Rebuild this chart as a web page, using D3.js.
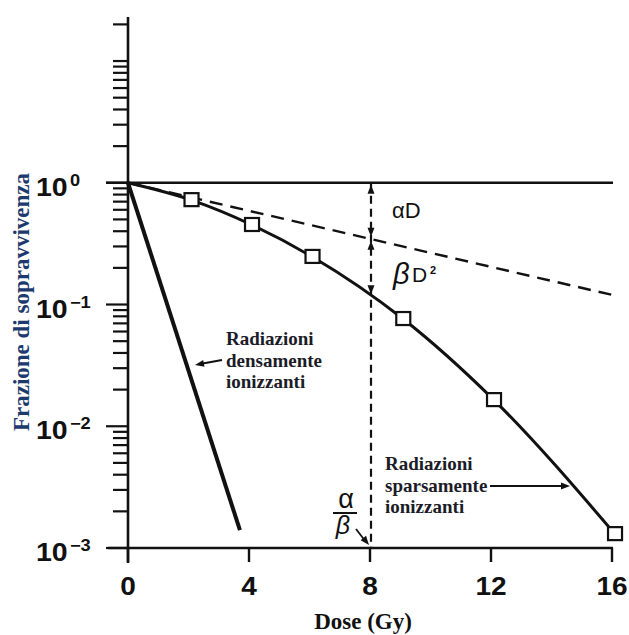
<!DOCTYPE html>
<html>
<head>
<meta charset="utf-8">
<script src="https://cdn.jsdelivr.net/npm/d3@7"></script>
<style>
  body { margin: 0; background: #fff; }
  svg { display: block; }
</style>
</head>
<body>
<svg></svg>
<script>
const width = 629;
const height = 635;

// survival curves
const sparseDose = [0, 2.1, 4.1, 6.1, 9.1, 12.1, 16.1];
const sparseSurv = [1, 0.72, 0.45, 0.246, 0.076, 0.0164, 0.0013];
const denseDose = [0, 3.7];
const denseSurv = [1, 0.0014];
const alphaDose = [0, 16];
const alphaSurv = [1, 0.12];
const refDose = 8;

const xTicks = [0, 4, 8, 12, 16];
const yMajor = [1, 0.1, 0.01, 0.001];
const yExp = ['0', '\u22121', '\u22122', '\u22123'];

const svg = d3.select('svg')
    .attr('width', width)
    .attr('height', height);

const x = d3.scaleLinear().domain([0, 16]).range([128, 612]);
const y = d3.scaleLog().domain([0.001, 23]).range([548, 17]);

const ink = '#111';
const helv = 'Liberation Sans, Arial, Helvetica, sans-serif';
const times = 'Liberation Serif, Times New Roman, serif';

// y axis: minor ticks, major ticks
const yAxis = svg.append('g').attr('transform', `translate(${x(0)},0)`);
yAxis.append('line')
    .attr('x1', 0).attr('x2', 0)
    .attr('y1', y(23)).attr('y2', y(0.001) + 15)
    .attr('stroke', ink).attr('stroke-width', 2.6);
yAxis.selectAll('.minor')
  .data(y.ticks())
  .enter().append('line')
    .classed('minor', true)
    .attr('x1', d => yMajor.includes(d) ? -22 : -15).attr('x2', 0)
    .attr('y1', d => y(d)).attr('y2', d => y(d))
    .attr('stroke', ink).attr('stroke-width', 2.2);

const yLab = svg.append('g')
  .selectAll('text')
  .data(yMajor)
  .enter().append('text')
    .attr('transform', d => `translate(36,${y(d) + 13}) scale(1.14,1)`)
    .attr('font-family', helv)
    .attr('font-weight', 'bold')
    .attr('font-size', 25)
    .attr('fill', ink);
yLab.append('tspan').text('10');
yLab.append('tspan')
    .attr('dx', 2)
    .attr('dy', -10)
    .attr('font-size', 16)
    .text((d, i) => yExp[i]);

// x axis
const xAxis = svg.append('g');
xAxis.append('line')
    .attr('x1', x(0) - 20).attr('x2', x(16) + 1)
    .attr('y1', y(0.001)).attr('y2', y(0.001))
    .attr('stroke', ink).attr('stroke-width', 2.6);
xAxis.selectAll('.xt')
  .data(xTicks)
  .enter().append('line')
    .classed('xt', true)
    .attr('x1', d => x(d)).attr('x2', d => x(d))
    .attr('y1', y(0.001)).attr('y2', y(0.001) + 14)
    .attr('stroke', ink).attr('stroke-width', 2.4);
xAxis.selectAll('text')
  .data(xTicks)
  .enter().append('text')
    .attr('transform', d => `translate(${x(d)},595) scale(1.12,1)`)
    .attr('text-anchor', 'middle')
    .attr('font-family', helv)
    .attr('font-weight', 'bold')
    .attr('font-size', 25)
    .attr('fill', ink)
    .text(d => d);

// axis titles
svg.append('text')
    .attr('x', 363).attr('y', 629)
    .attr('text-anchor', 'middle')
    .attr('font-family', times)
    .attr('font-weight', 'bold')
    .attr('font-size', 23)
    .attr('fill', '#111')
    .text('Dose (Gy)');
svg.append('text')
    .attr('transform', 'translate(29,302) rotate(-90)')
    .attr('text-anchor', 'middle')
    .attr('font-family', times)
    .attr('font-weight', 'bold')
    .attr('font-size', 23)
    .attr('fill', '#1d3a6e')
    .text('Frazione di sopravvivenza');

// reference line at survival 1
svg.append('line')
    .attr('x1', x(0) - 22).attr('x2', x(16) + 1)
    .attr('y1', y(1)).attr('y2', y(1))
    .attr('stroke', ink).attr('stroke-width', 2.4);

const line = d3.line()
    .x(d => x(d[0]))
    .y(d => y(d[1]));

// alpha component (dashed)
svg.append('path')
    .attr('d', line(d3.zip(alphaDose, alphaSurv)))
    .attr('fill', 'none')
    .attr('stroke', ink)
    .attr('stroke-width', 2.4)
    .attr('stroke-dasharray', '13,8');

// densely ionizing
svg.append('path')
    .attr('d', line(d3.zip(denseDose, denseSurv)))
    .attr('fill', 'none')
    .attr('stroke', ink)
    .attr('stroke-width', 4);

// sparsely ionizing
const sparse = d3.zip(sparseDose, sparseSurv);
svg.append('path')
    .attr('d', line.curve(d3.curveMonotoneX)(sparse))
    .attr('fill', 'none')
    .attr('stroke', ink)
    .attr('stroke-width', 3);

svg.selectAll('.sq')
  .data(sparse.slice(1))
  .enter().append('rect')
    .classed('sq', true)
    .attr('x', d => x(d[0]) - 7)
    .attr('y', d => y(d[1]) - 7)
    .attr('width', 14).attr('height', 13)
    .attr('fill', '#fff')
    .attr('stroke', ink)
    .attr('stroke-width', 2.2);

// vertical dashed at alpha/beta
const xr = x(refDose);
const yDash = y(Math.sqrt(alphaSurv[1]));
const lo = d3.bisectLeft(sparseDose, refDose);
const t = (refDose - sparseDose[lo - 1]) / (sparseDose[lo] - sparseDose[lo - 1]);
const yCurve = y(Math.exp(Math.log(sparseSurv[lo - 1]) * (1 - t) + Math.log(sparseSurv[lo]) * t));

svg.append('line')
    .attr('x1', xr + 1).attr('x2', xr + 1)
    .attr('y1', y(1)).attr('y2', y(0.001))
    .attr('stroke', ink)
    .attr('stroke-width', 2.2)
    .attr('stroke-dasharray', '8,5');

function head(px, py, ang, len = 9, w = 3.5) {
  // tip at (px,py), pointing in direction ang (radians)
  const c = Math.cos(ang), s = Math.sin(ang);
  const bx = px - c * len, by = py - s * len;
  svg.append('path')
      .attr('d', `M${px},${py}L${bx - s * w},${by + c * w}L${bx + s * w},${by - c * w}Z`)
      .attr('fill', ink);
}
head(xr + 1, y(1) + 2, -Math.PI / 2);
head(xr + 1, yDash - 2, Math.PI / 2);
head(xr + 1, yDash + 2, -Math.PI / 2);
head(xr + 1, yCurve - 2, Math.PI / 2);

// formula labels
svg.append('text')
    .attr('x', 392).attr('y', 218)
    .attr('font-family', helv)
    .attr('font-size', 22)
    .attr('fill', ink)
    .text('\u03b1D');
svg.append('text')
    .attr('x', 393).attr('y', 284)
    .attr('font-family', helv)
    .attr('font-style', 'italic')
    .attr('font-size', 29)
    .attr('fill', ink)
    .text('\u03b2');
svg.append('text')
    .attr('x', 412).attr('y', 282)
    .attr('font-family', helv)
    .attr('font-size', 21)
    .attr('fill', ink)
    .text('D');
svg.append('text')
    .attr('x', 430).attr('y', 274)
    .attr('font-family', helv)
    .attr('font-weight', 'bold')
    .attr('font-size', 11)
    .attr('fill', ink)
    .text('2');

// alpha / beta
svg.append('text')
    .attr('x', 346).attr('y', 508)
    .attr('text-anchor', 'middle')
    .attr('font-family', helv)
    .attr('font-size', 27)
    .attr('fill', ink)
    .text('\u03b1');
svg.append('line')
    .attr('x1', 333).attr('x2', 357)
    .attr('y1', 513).attr('y2', 513)
    .attr('stroke', ink).attr('stroke-width', 2);
svg.append('text')
    .attr('x', 343).attr('y', 534)
    .attr('text-anchor', 'middle')
    .attr('font-family', helv)
    .attr('font-style', 'italic')
    .attr('font-size', 25)
    .attr('fill', ink)
    .text('\u03b2');
svg.append('line')
    .attr('x1', 356).attr('y1', 529)
    .attr('x2', xr - 4).attr('y2', y(0.001) - 6)
    .attr('stroke', ink).attr('stroke-width', 1.8);
head(xr - 1, y(0.001) - 3, Math.atan2(y(0.001) - 3 - 529, xr - 1 - 356));

// annotations
function label(x0, y0, lines) {
  const tx = svg.append('text')
      .attr('font-family', times)
      .attr('font-weight', 'bold')
      .attr('font-size', 19)
      .attr('fill', '#1c1c28');
  tx.selectAll('tspan')
    .data(lines)
    .enter().append('tspan')
      .attr('x', x0)
      .attr('y', (d, i) => y0 + i * 21.5)
      .text(d => d);
}
label(226, 345, ['Radiazioni', 'densamente', 'ionizzanti']);
label(385, 470, ['Radiazioni', 'sparsamente', 'ionizzanti']);

svg.append('line')
    .attr('x1', 222).attr('y1', 360)
    .attr('x2', 200).attr('y2', 364)
    .attr('stroke', ink).attr('stroke-width', 2);
head(195, 365, Math.atan2(5, -27));

svg.append('line')
    .attr('x1', 490).attr('y1', 486)
    .attr('x2', 562).attr('y2', 486)
    .attr('stroke', ink).attr('stroke-width', 2);
head(570, 486, 0);
</script>
</body>
</html>
